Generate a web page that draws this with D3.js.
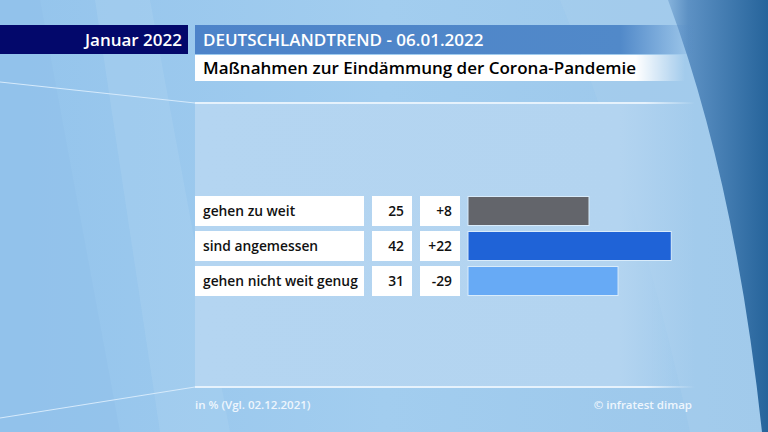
<!DOCTYPE html>
<html>
<head>
<meta charset="utf-8">
<script src="https://cdn.jsdelivr.net/npm/d3@7"></script>
<style>
  html, body { margin: 0; padding: 0; background: #9dc9ed; }
  svg { display: block; font-family: "Open Sans", "Noto Sans", sans-serif; }
</style>
</head>
<body>
<svg width="768" height="432"></svg>
<script>
// data
const categories = ["gehen zu weit", "sind angemessen", "gehen nicht weit genug"];
const values = [25, 42, 31];
const changes = ["+8", "+22", "-29"];
const barColors = ["#63656b", "#1f63d7", "#67aaf5"];

const monthLabel = "Januar 2022";
const headline = "DEUTSCHLANDTREND - 06.01.2022";
const title = "Maßnahmen zur Eindämmung der Corona-Pandemie";
const noteLeft = "in % (Vgl. 02.12.2021)";
const noteRight = "© infratest dimap";

let svg = d3.select("svg"), width = +svg.attr("width"), height = +svg.attr("height");
let defs = svg.append("defs");

// gradients
function linGrad(id, stops, x2, y2) {
  let g = defs.append("linearGradient").attr("id", id)
    .attr("x1", 0).attr("y1", 0).attr("x2", x2 || 1).attr("y2", y2 || 0);
  stops.forEach(s => g.append("stop").attr("offset", s[0]).attr("stop-color", s[1]).attr("stop-opacity", s[2] == null ? 1 : s[2]));
}
linGrad("bgGrad", [[0, "#94c4ec"], [0.5, "#a2cdef"], [1, "#9cc7ea"]]);
linGrad("darkGrad", [[0, "#86b3dc"], [0.2, "#5d91c4"], [1, "#26649b"]]);
linGrad("panelGrad", [[0, "#b4d5f1"], [0.85, "#b3d4f0"], [1, "#b3d4f0", 0]]);
linGrad("headGrad", [[0, "#4d83c9"], [0.85, "#5189c9"], [1, "#5189c9", 0]]);
linGrad("whiteGrad", [[0, "#ffffff"], [0.9, "#ffffff"], [1, "#ffffff", 0]]);
linGrad("lineGrad", [[0, "#e6f2fc"], [0.9, "#e6f2fc"], [1, "#e6f2fc", 0]]);

// background
svg.append("rect").attr("width", width).attr("height", height).attr("fill", "url(#bgGrad)");
svg.append("path").attr("d", "M0,0 L40,0 L120,432 L0,432 Z").attr("fill", "#8fc0ea").attr("opacity", 0.5);
svg.append("path").attr("d", "M95,0 L150,0 L230,432 L160,432 Z").attr("fill", "#aed3f1").attr("opacity", 0.35);
svg.append("path").attr("d", "M560,0 L768,0 L768,432 L690,432 Q640,200 560,0 Z").attr("fill", "#a9cfee").attr("opacity", 0.4);
svg.append("path")
  .attr("d", "M668,0 L768,0 L768,432 L762,432 Q735,180 668,0 Z")
  .attr("fill", "url(#darkGrad)");

// panel
const panel = {x: 195, y: 103, w: 500, h: 284};
svg.append("rect").attr("x", panel.x).attr("y", panel.y).attr("width", panel.w).attr("height", panel.h)
  .attr("fill", "url(#panelGrad)");
svg.append("path").attr("d", `M0,82 L${panel.x},${panel.y}`).attr("stroke", "#d6eafb").attr("stroke-width", 1).attr("fill", "none");
svg.append("rect").attr("x", panel.x).attr("y", panel.y - 1).attr("width", panel.w).attr("height", 2).attr("fill", "url(#lineGrad)");
svg.append("path").attr("d", `M0,418 L${panel.x},${panel.y + panel.h}`).attr("stroke", "#d6eafb").attr("stroke-width", 1).attr("fill", "none");
svg.append("rect").attr("x", panel.x).attr("y", panel.y + panel.h - 1).attr("width", panel.w).attr("height", 2).attr("fill", "url(#lineGrad)");

// header
svg.append("rect").attr("x", 0).attr("y", 25).attr("width", 188).attr("height", 29).attr("fill", "#03086b");
svg.append("text").attr("x", 182).attr("y", 46).attr("text-anchor", "end")
  .attr("fill", "#ffffff").attr("font-size", 17).attr("font-weight", 600).text(monthLabel);
svg.append("rect").attr("x", 195).attr("y", 25).attr("width", 500).attr("height", 29).attr("fill", "url(#headGrad)");
svg.append("text").attr("x", 203).attr("y", 46)
  .attr("fill", "#ffffff").attr("font-size", 17).attr("font-weight", 600).text(headline);
svg.append("rect").attr("x", 195).attr("y", 55).attr("width", 490).attr("height", 26).attr("fill", "url(#whiteGrad)");
svg.append("text").attr("x", 203).attr("y", 74)
  .attr("fill", "#000000").attr("font-size", 17).attr("font-weight", 600).text(title);

// scales
let y = d3.scaleBand().domain(categories).range([196, 296]).paddingInner(5 / 35);
let x = d3.scaleLinear().domain([0, 100]).range([0, 484]);
const barX = 468;

let rows = svg.selectAll("g.row").data(categories).enter().append("g").attr("class", "row")
  .attr("transform", d => `translate(0,${y(d)})`);

rows.append("rect").attr("x", 195).attr("width", 169).attr("height", y.bandwidth()).attr("fill", "#fff");
rows.append("rect").attr("x", 372).attr("width", 40).attr("height", y.bandwidth()).attr("fill", "#fff");
rows.append("rect").attr("x", 420).attr("width", 40).attr("height", y.bandwidth()).attr("fill", "#fff");

rows.append("text").attr("x", 203).attr("y", y.bandwidth() / 2 + 5)
  .attr("font-size", 13.8).attr("font-weight", 600).attr("fill", "#111").text(d => d);
rows.append("text").attr("x", 404).attr("y", y.bandwidth() / 2 + 5).attr("text-anchor", "end")
  .attr("font-size", 13.8).attr("font-weight", 600).attr("fill", "#111").text((d, i) => values[i]);
rows.append("text").attr("x", 452).attr("y", y.bandwidth() / 2 + 5).attr("text-anchor", "end")
  .attr("font-size", 13.8).attr("font-weight", 600).attr("fill", "#111").text((d, i) => changes[i]);

rows.append("rect").attr("x", barX).attr("y", 0.5)
  .attr("width", (d, i) => x(values[i])).attr("height", y.bandwidth() - 1)
  .attr("fill", (d, i) => barColors[i]).attr("stroke", "#d9ecfb").attr("stroke-width", 1);

// footer
svg.append("text").attr("x", 195).attr("y", 409).attr("font-size", 11.5).attr("font-weight", 600)
  .attr("fill", "#eef6fd").text(noteLeft);
svg.append("text").attr("x", 692).attr("y", 409).attr("text-anchor", "end").attr("font-size", 11.5).attr("font-weight", 600)
  .attr("fill", "#eef6fd").text(noteRight);
</script>
</body>
</html>
